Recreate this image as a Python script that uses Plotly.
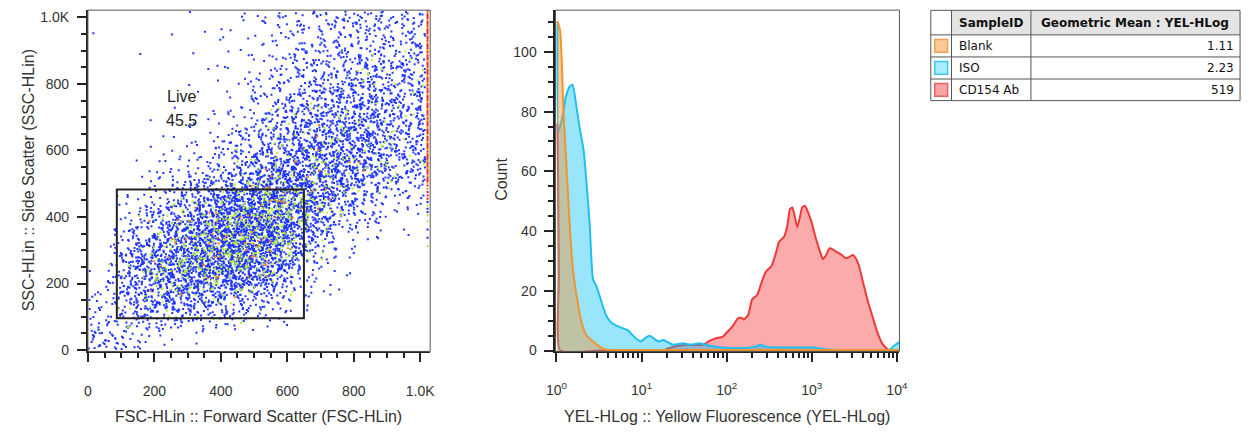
import plotly.graph_objects as go

# ============================ DATA ============================
# Left panel: FSC-HLin vs SSC-HLin dot plot.  Event counts read per cell
# (rows = SSC bins from low to high, columns = FSC bins from low to high).
FSC_EDGES = [0, 100, 200, 300, 400, 500, 600, 700, 800, 900, 1024]
SSC_EDGES = [0, 100, 200, 300, 400, 500, 600, 700, 800, 900, 1024]
CELL_COUNTS = [
    [50, 28, 6, 1, 0, 0, 0, 0, 0, 0],
    [18, 110, 150, 125, 85, 40, 8, 1, 0, 0],
    [3, 140, 250, 310, 330, 230, 40, 4, 1, 0],
    [0, 60, 170, 290, 380, 360, 170, 30, 8, 3],
    [0, 12, 60, 140, 260, 330, 270, 130, 45, 18],
    [0, 3, 12, 30, 75, 170, 220, 195, 156, 91],
    [0, 1, 3, 8, 30, 85, 143, 156, 143, 91],
    [0, 0, 1, 3, 10, 40, 78, 104, 117, 91],
    [0, 0, 1, 2, 6, 22, 45, 65, 78, 78],
    [1, 1, 1, 3, 7, 22, 39, 52, 58, 65],
]
# saturated events piled on the FSC upper limit, per SSC bin
EDGE_FSC = 1022
EDGE_COUNTS = [0, 0, 0, 4, 10, 18, 18, 18, 18, 22]

GATE_NAME = "Live"
GATE_PCT = "45.5"
GATE_FSC = [87, 650]
GATE_SSC = [96, 483]

# Right panel: YEL-HLog histograms (channel value, count)
BLANK_YEL = [1.027, 1.104, 1.153, 1.205, 1.294, 1.377, 1.466, 1.574, 1.750, 1.968,
             2.244, 2.685, 3.214, 3.828, 5.62, 31.6, 316, 3162, 10715]
BLANK_CNT = [110.4, 107, 97, 80.8, 64.4, 50.1, 37, 26, 17.2, 9.5,
             5.2, 3.0, 1.3, 0.3, 0.2, 0.2, 0.2, 0.2, 0.2]

ISO_YEL = [1.027, 1.054, 1.183, 1.294, 1.439, 1.545, 1.690, 1.879, 2.094, 2.244,
           2.455, 2.685, 2.938, 3.214, 3.828, 4.375, 5.47, 6.84, 8.53, 9.75,
           11.56, 12.62, 13.80, 15.78, 18.03, 20.61, 23.55, 30.76, 36.73, 47.97,
           62.66, 89.54, 139.6, 218.3, 249.5, 285.1, 444.6, 693.4, 1081, 1291,
           2014, 4111, 7656, 8531, 9572, 10715]
ISO_CNT = [110, 73.2, 78.6, 85.2, 88.5, 89.0, 83, 74.2, 66.6, 56.7,
           42.4, 23.8, 21.6, 18.3, 11.7, 9.5, 7.9, 6.8, 4.1, 3.0,
           4.6, 4.9, 4.1, 3.0, 3.5, 2.7, 1.9, 2.4, 1.9, 2.4,
           1.6, 1.0, 0.8, 1.3, 1.9, 1.3, 1.0, 1.0, 1.0, 0.6,
           0.2, 0.2, 0.0, 0.6, 1.9, 2.8]

CD154_YEL = [1.027, 1.072, 1.109, 3.16, 17.8, 20.9, 26.3, 35.5, 52.5, 62.7,
             74.8, 89.5, 102.3, 117.0, 137.1, 150.0, 159.6, 179.1, 199.5, 227.5,
             255.9, 289.7, 334.2, 378.4, 413.0, 472.1, 516.4, 554.6, 590.2, 633.9,
             674.5, 724.4, 770.9, 827.9, 905.7, 1007, 1130, 1268, 1349, 1476,
             1614, 1762, 1928, 2203, 2518, 2754, 3006, 3289, 3597, 3926,
             4487, 5129, 5861, 6699, 7656, 8511, 10715]
CD154_CNT = [76, 25, 0, 0, 0, 0.8, 1.5, 1.9, 1.9, 3.2,
             4.1, 4.6, 6.3, 8.1, 10.9, 10.9, 10.4, 12.0, 17.2, 18.5,
             22.7, 26.5, 28.2, 32.6, 36.4, 38.1, 41.9, 47.4, 47.9, 44.6,
             41.3, 44.6, 47.9, 48.5, 46.3, 42.4, 37.0, 32.6, 30.6, 32.0,
             34.2, 33.9, 33.1, 32.2, 30.9, 31.3, 32.0, 30.9, 28.2, 23.8,
             17.2, 11.7, 6.3, 2.4, 0.6, 0, 0]

SAMPLES = ["Blank", "ISO", "CD154 Ab"]
GEO_MEANS = ["1.11", "2.23", "519"]
TABLE_HEADERS = ["SampleID", "Geometric Mean : YEL-HLog"]

HIST_TICKVALS = [1, 10, 100, 1000, 10000]
HIST_TICKTEXT = ["10<sup>0</sup>", "10<sup>1</sup>", "10<sup>2</sup>", "10<sup>3</sup>", "10<sup>4</sup>"]
DOT_TICKVALS = [0, 200, 400, 600, 800, 1000]
DOT_TICKTEXT = ["0", "200", "400", "600", "800", "1.0K"]

# ============================ STYLE ============================
W, H = 1252, 433
FONT = "Liberation Sans, Arial, sans-serif"
TFONT = "DejaVu Sans, Verdana, sans-serif"
TXT = "#333333"
AX = "#222222"


def px_x(p):
    return p / W


def px_y(p):
    return 1 - p / H


def halton(i, b):
    f, r = 1.0, 0.0
    while i > 0:
        f /= b
        r += f * (i % b)
        i //= b
    return r


def mix(k):
    # integer hash used only to pick which dots get the density colour
    h = (k * 2654435761) % 4294967296
    h ^= h >> 13
    h = (h * 1274126177) % 4294967296
    return (h >> 8) % 1000


def fold(v, lo, hi):
    if v < lo:
        v = 2 * lo - v
    if v > hi:
        v = 2 * hi - v
    return v


# each cell's events are spread with a tent profile one cell wide on either side,
# so neighbouring cells blend smoothly (no visible cell boundaries)
blue_x, blue_y, green_x, green_y, orange_x, orange_y = [], [], [], [], [], []
k = 1
for j, row in enumerate(CELL_COUNTS):
    y0, y1 = SSC_EDGES[j], SSC_EDGES[j + 1]
    for i, n in enumerate(row):
        x0, x1 = FSC_EDGES[i], FSC_EDGES[i + 1]
        xc, yc = (x0 + x1) / 2, (y0 + y1) / 2
        for m in range(n):
            xx = xc + (halton(k, 2) + halton(k, 5) - 1) * (x1 - x0)
            yy = yc + (halton(k, 3) + halton(k, 7) - 1) * (y1 - y0)
            k += 1
            xx = fold(xx, 2, 1016)
            yy = fold(yy, 2, 1018)
            r = mix(k)
            if n >= 250:
                g_rate, o_rate = 170, 25
            elif n >= 150:
                g_rate, o_rate = 110, 10
            elif n >= 70:
                g_rate, o_rate = 50, 0
            else:
                g_rate, o_rate = 0, 0
            if r < o_rate:
                orange_x.append(xx); orange_y.append(yy)
            elif r < o_rate + g_rate:
                green_x.append(xx); green_y.append(yy)
            else:
                blue_x.append(xx); blue_y.append(yy)

edge_x, edge_y, edge_c = [], [], []
for j, n in enumerate(EDGE_COUNTS):
    y0, y1 = SSC_EDGES[j], SSC_EDGES[j + 1]
    for m in range(n):
        yy = y0 + (m + 0.5) / n * (y1 - y0)
        edge_x.append(EDGE_FSC)
        edge_y.append(yy)
        if yy > 450:
            edge_c.append("#e8281e" if m % 4 else "#f0a020")
        else:
            edge_c.append("#1a2cff" if m % 3 else "#a8e83c")

fig = go.Figure()

dot = dict(symbol="square", size=2, line=dict(width=0))
fig.add_trace(go.Scatter(x=blue_x, y=blue_y, mode="markers", hoverinfo="skip",
                         marker=dict(color="#2036ff", **dot), xaxis="x", yaxis="y"))
fig.add_trace(go.Scatter(x=green_x, y=green_y, mode="markers", hoverinfo="skip",
                         marker=dict(color="#b4ee3c", **dot), xaxis="x", yaxis="y"))
fig.add_trace(go.Scatter(x=orange_x, y=orange_y, mode="markers", hoverinfo="skip",
                         marker=dict(color="#ff7a1a", **dot), xaxis="x", yaxis="y"))
fig.add_trace(go.Scatter(x=edge_x, y=edge_y, mode="markers", hoverinfo="skip",
                         marker=dict(symbol="square", size=2, color=edge_c, line=dict(width=0)),
                         xaxis="x", yaxis="y"))

# histograms (CD154 bottom, ISO, Blank on top)
hist = [
    (CD154_YEL, CD154_CNT, "#ee3a3a", "rgba(245,60,60,0.43)", "CD154 Ab"),
    (ISO_YEL, ISO_CNT, "#1fbfef", "rgba(0,190,245,0.40)", "ISO"),
    (BLANK_YEL, BLANK_CNT, "#f0952e", "rgba(240,150,60,0.45)", "Blank"),
]
for xs, ys, lc, fc, name in hist:
    fig.add_trace(go.Scatter(x=xs, y=ys, mode="lines", name=name, fill="tozeroy",
                             fillcolor=fc, line=dict(color=lc, width=2, shape="spline", smoothing=0.5),
                             hoverinfo="skip", xaxis="x2", yaxis="y2"))

tickfont = dict(family=FONT, size=14, color=TXT)
common = dict(showgrid=False, zeroline=False, showline=True, linewidth=2, linecolor=AX,
              ticks="outside", ticklen=9, tickwidth=2, tickcolor=AX, tickfont=tickfont)
minor_style = dict(ticks="outside", ticklen=5, tickwidth=1.5, tickcolor=AX, tickmode="array")

y_dom = [px_y(357), px_y(9.3)]

fig.update_layout(
    width=W, height=H, margin=dict(l=0, r=0, t=0, b=0),
    paper_bgcolor="white", plot_bgcolor="white", showlegend=False,
    xaxis=dict(domain=[px_x(80), px_x(427)], range=[0, 1030], anchor="y",
               tickmode="array", tickvals=DOT_TICKVALS, ticktext=DOT_TICKTEXT,
               ticklabelstandoff=17,
               minor=dict(tickvals=list(range(0, 1031, 50)), **minor_style),
               **common),
    yaxis=dict(domain=y_dom, range=[-4, 1022], anchor="x",
               tickmode="array", tickvals=DOT_TICKVALS, ticktext=DOT_TICKTEXT,
               ticklabelstandoff=5,
               minor=dict(tickvals=list(range(0, 1021, 50)), **minor_style),
               **common),
    xaxis2=dict(domain=[px_x(554), px_x(902.7)], type="log", range=[-0.012, 4.03], anchor="y2",
                tickmode="array", tickvals=HIST_TICKVALS, ticktext=HIST_TICKTEXT,
                ticklabelstandoff=16,
                minor=dict(tickvals=[m * 10 ** d for d in range(0, 4) for m in range(2, 10)],
                           **minor_style),
                **common),
    yaxis2=dict(domain=y_dom, range=[-0.3, 114], anchor="x2",
                tickmode="array", tickvals=[0, 20, 40, 60, 80, 100],
                ticklabelstandoff=5,
                minor=dict(tickvals=list(range(0, 115, 5)), **minor_style),
                **common),
)

shapes = []
annotations = []
for xr, yr in (("x domain", "y domain"), ("x2 domain", "y2 domain")):
    shapes.append(dict(type="rect", xref=xr, yref=yr, x0=0, x1=1, y0=0, y1=1,
                       line=dict(color="#555555", width=1), fillcolor="rgba(0,0,0,0)"))
shapes.append(dict(type="rect", xref="x", yref="y", x0=GATE_FSC[0], x1=GATE_FSC[1],
                   y0=GATE_SSC[0], y1=GATE_SSC[1], line=dict(color=AX, width=2)))
annotations.append(dict(xref="x", yref="y", x=282, y=763, text=GATE_NAME, showarrow=False,
                        font=dict(family=FONT, size=16, color=AX)))
annotations.append(dict(xref="x", yref="y", x=282, y=690, text=GATE_PCT, showarrow=False,
                        font=dict(family=FONT, size=16, color=AX)))

tfont = dict(family=FONT, size=16, color=TXT)
annotations += [
    dict(xref="paper", yref="paper", x=px_x(253), y=px_y(423), text="FSC-HLin :: Forward Scatter (FSC-HLin)",
         showarrow=False, font=tfont, xanchor="center", yanchor="middle"),
    dict(xref="paper", yref="paper", x=px_x(20), y=px_y(183), text="SSC-HLin :: Side Scatter (SSC-HLin)",
         showarrow=False, font=tfont, textangle=-90, xanchor="center", yanchor="middle"),
    dict(xref="paper", yref="paper", x=px_x(728), y=px_y(423), text="YEL-HLog :: Yellow Fluorescence (YEL-HLog)",
         showarrow=False, font=tfont, xanchor="center", yanchor="middle"),
    dict(xref="paper", yref="paper", x=px_x(499), y=px_y(182), text="Count",
         showarrow=False, font=tfont, textangle=-90, xanchor="center", yanchor="middle"),
]

# statistics table
cols = [934.5, 955.5, 1036, 1248]
rows = [9.5, 34.5, 57, 79.5, 101.5]
shapes.append(dict(type="rect", xref="paper", yref="paper", x0=px_x(cols[1]), x1=px_x(cols[3]),
                   y0=px_y(rows[1]), y1=px_y(rows[0]), fillcolor="#e4e4e4", line=dict(width=0), layer="below"))
for c in cols:
    shapes.append(dict(type="line", xref="paper", yref="paper", x0=px_x(c), x1=px_x(c),
                       y0=px_y(rows[0]), y1=px_y(rows[-1]), line=dict(color="#555555", width=1)))
for r in rows:
    shapes.append(dict(type="line", xref="paper", yref="paper", x0=px_x(cols[0]), x1=px_x(cols[-1]),
                       y0=px_y(r), y1=px_y(r), line=dict(color="#555555", width=1)))
hfont = dict(family=TFONT, size=12, color="#111111")
annotations.append(dict(xref="paper", yref="paper", x=px_x((cols[1] + cols[2]) / 2), y=px_y((rows[0] + rows[1]) / 2),
                        text="<b>" + TABLE_HEADERS[0] + "</b>", showarrow=False, font=hfont,
                        xanchor="center", yanchor="middle"))
annotations.append(dict(xref="paper", yref="paper", x=px_x((cols[2] + cols[3]) / 2), y=px_y((rows[0] + rows[1]) / 2),
                        text="<b>" + TABLE_HEADERS[1] + "</b>", showarrow=False, font=hfont,
                        xanchor="center", yanchor="middle"))
sw_fill = ["#fbc99a", "#a8ecff", "#f9a5a5"]
sw_line = ["#f0a050", "#38c8f0", "#f06060"]
rfont = dict(family=TFONT, size=12, color="#111111")
for i, (s, g) in enumerate(zip(SAMPLES, GEO_MEANS)):
    yc = (rows[i + 1] + rows[i + 2]) / 2
    shapes.append(dict(type="rect", xref="paper", yref="paper", x0=px_x(938.5), x1=px_x(951.5),
                       y0=px_y(yc + 6.5), y1=px_y(yc - 6.5), fillcolor=sw_fill[i],
                       line=dict(color=sw_line[i], width=1.5)))
    annotations.append(dict(xref="paper", yref="paper", x=px_x(961), y=px_y(yc), text=s, showarrow=False,
                            font=rfont, xanchor="left", yanchor="middle"))
    annotations.append(dict(xref="paper", yref="paper", x=px_x(1244), y=px_y(yc), text=g, showarrow=False,
                            font=rfont, xanchor="right", yanchor="middle"))

fig.update_layout(shapes=shapes, annotations=annotations)

fig.write_html("out.html", config={"displayModeBar": False},
               post_script=("document.body.style.margin='0';"
                            "document.documentElement.style.overflow='hidden';"
                            "document.body.style.overflow='hidden';"))
